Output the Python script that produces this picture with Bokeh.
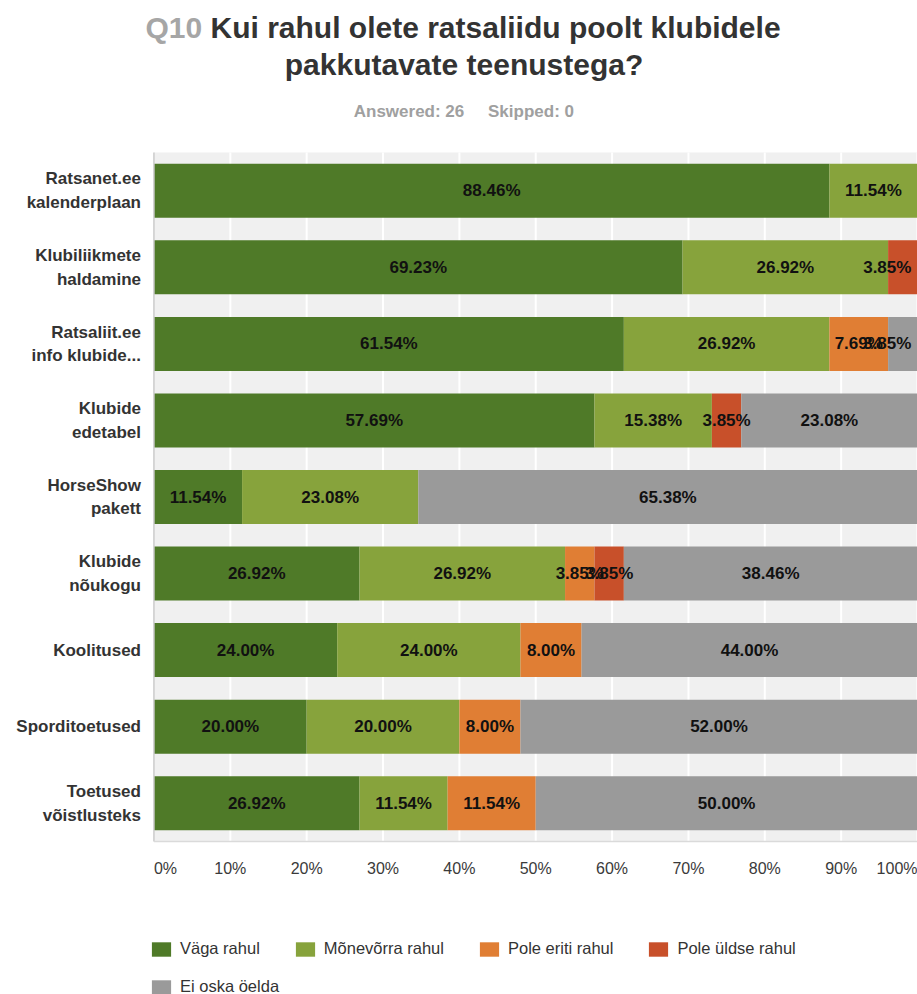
from bokeh.plotting import figure
from bokeh.models import (Range1d, Label, Legend, LegendItem, ColumnDataSource)
from bokeh.core.properties import value
from bokeh.embed import file_html
from bokeh.resources import INLINE

# ---------------- data ----------------
categories = [
    "Ratsanet.ee\nkalenderplaan",
    "Klubiliikmete\nhaldamine",
    "Ratsaliit.ee\ninfo klubide...",
    "Klubide\nedetabel",
    "HorseShow\npakett",
    "Klubide\nnõukogu",
    "Koolitused",
    "Sporditoetused",
    "Toetused\nvõistlusteks",
]
series_names = ["Väga rahul", "Mõnevõrra rahul", "Pole eriti rahul",
                "Pole üldse rahul", "Ei oska öelda"]
vaga_rahul = [88.46, 69.23, 61.54, 57.69, 11.54, 26.92, 24.00, 20.00, 26.92]
monevorra_rahul = [11.54, 26.92, 26.92, 15.38, 23.08, 26.92, 24.00, 20.00, 11.54]
pole_eriti_rahul = [0, 0, 7.69, 0, 0, 3.85, 8.00, 8.00, 11.54]
pole_uldse_rahul = [0, 3.85, 0, 3.85, 0, 3.85, 0, 0, 0]
ei_oska_oelda = [0, 0, 3.85, 23.08, 65.38, 38.46, 44.00, 52.00, 50.00]
series_colors = ["#4f7a28", "#87a33c", "#e07e34", "#c8502a", "#9a9a9a"]
x_ticks = [0, 10, 20, 30, 40, 50, 60, 70, 80, 90, 100]
x_tick_labels = ["0%", "10%", "20%", "30%", "40%", "50%", "60%", "70%",
                 "80%", "90%", "100%"]
title_prefix = "Q10"
title_line1 = "Kui rahul olete ratsaliidu poolt klubidele"
title_line2 = "pakkutavate teenustega?"
answered_text = "Answered: 26"
skipped_text = "Skipped: 0"

FONT = "Liberation Sans"
W, H = 917, 994

n = len(categories)
rows = list(range(n))
keys = ["s0", "s1", "s2", "s3", "s4"]
series_values = [vaga_rahul, monevorra_rahul, pole_eriti_rahul,
                 pole_uldse_rahul, ei_oska_oelda]
src = ColumnDataSource(dict(row=rows, cat=categories,
                            **{k: v for k, v in zip(keys, series_values)}))

# frame covers the whole canvas; ranges chosen so the plot area sits
# where the reference has it (0% at ~153px, rows 76.5px apart)
p = figure(width=W, height=H,
           x_range=Range1d(-20.1, 100),
           y_range=Range1d(10.499, -2.486),
           output_backend="svg", toolbar_location=None, title=None,
           x_axis_location=None, y_axis_location=None, min_border=0)
p.grid.visible = False
p.outline_line_color = None
p.background_fill_color = "white"
p.border_fill_color = "white"

# plot area background and grid
p.quad(left=[x_ticks[0]], right=[x_ticks[-1]], top=[-0.5], bottom=[n - 0.5],
       fill_color="#f0f0f0", line_color=None)
p.segment(x0=x_ticks, x1=x_ticks, y0=[-0.5] * len(x_ticks),
          y1=[n - 0.5] * len(x_ticks), line_color="white", line_width=2)

renderers = p.hbar_stack(keys, y="row", height=0.706, fill_color=series_colors,
                         line_color=None, source=src)

# axis lines
p.segment(x0=[0], x1=[0], y0=[-0.5], y1=[n - 0.5], line_color="#c8c8c8", line_width=1.5)
p.segment(x0=[0], x1=[100], y0=[n - 0.5], y1=[n - 0.5], line_color="#dadada", line_width=1.5)

# category labels
p.text(x=0, y="row", text="cat", source=src, x_offset=-13, text_align="right",
       text_baseline="middle", text_font=value(FONT), text_font_style="bold",
       text_font_size="17px", text_color="#333333", text_line_height=1.25)

# value labels
lx, ly, lt, rx, ry, rt = [], [], [], [], [], []
for i in rows:
    start = 0.0
    for vals in series_values:
        v = vals[i]
        if v > 0:
            c = start + v / 2
            txt = f"{v:.2f}%"
            if c > 96:
                rx.append(99.2); ry.append(i); rt.append(txt)
            else:
                lx.append(c); ly.append(i); lt.append(txt)
        start += v

label_kw = dict(text_baseline="middle", text_font=value(FONT),
                text_font_style="bold", text_font_size="17px",
                text_color="#111111")
p.text(x="x", y="y", text="t", text_align="center",
       source=ColumnDataSource(dict(x=lx, y=ly, t=lt)), **label_kw)
p.text(x="x", y="y", text="t", text_align="right",
       source=ColumnDataSource(dict(x=rx, y=ry, t=rt)), **label_kw)

# x tick labels (screen y measured from canvas bottom)
for t, lab in zip(x_ticks, x_tick_labels):
    align = "left" if t == x_ticks[0] else ("right" if t == x_ticks[-1] else "center")
    p.add_layout(Label(x=t, y=H - 868, x_units="data", y_units="screen", text=lab,
                       text_align=align, text_baseline="middle",
                       text_font=FONT, text_font_size="16px",
                       text_color="#3a3a3a"))

# titles
tkw = dict(x_units="screen", y_units="screen", text_baseline="middle",
           text_font=FONT, text_font_style="bold")
p.add_layout(Label(x=145, y=H - 27, text=title_prefix, text_align="left",
                   text_font_size="30px", text_color="#a6a6a6", **tkw))
p.add_layout(Label(x=210, y=H - 27, text=title_line1, text_align="left",
                   text_font_size="30px", text_color="#333333", **tkw))
p.add_layout(Label(x=463.5, y=H - 64, text=title_line2, text_align="center",
                   text_font_size="30px", text_color="#333333", **tkw))
p.add_layout(Label(x=408.5, y=H - 111, text=answered_text, text_align="center",
                   text_font_size="17px", text_color="#a0a0a0", **tkw))
p.add_layout(Label(x=530.5, y=H - 111, text=skipped_text, text_align="center",
                   text_font_size="17px", text_color="#a0a0a0", **tkw))

# legends
leg_kw = dict(orientation="horizontal", glyph_width=24, glyph_height=18,
              label_standoff=7, spacing=33, padding=0, margin=0,
              border_line_color=None, background_fill_alpha=0,
              label_text_font=FONT, label_text_font_size="16.5px",
              label_text_color="#333333", label_height=18)
items = [LegendItem(label=nm, renderers=[r]) for nm, r in zip(series_names, renderers)]
p.add_layout(Legend(items=items[:4], location=(149, 36), **leg_kw))
p.add_layout(Legend(items=items[4:], location=(149, -2), **leg_kw))

open("out.html", "w").write(file_html(p, INLINE))
